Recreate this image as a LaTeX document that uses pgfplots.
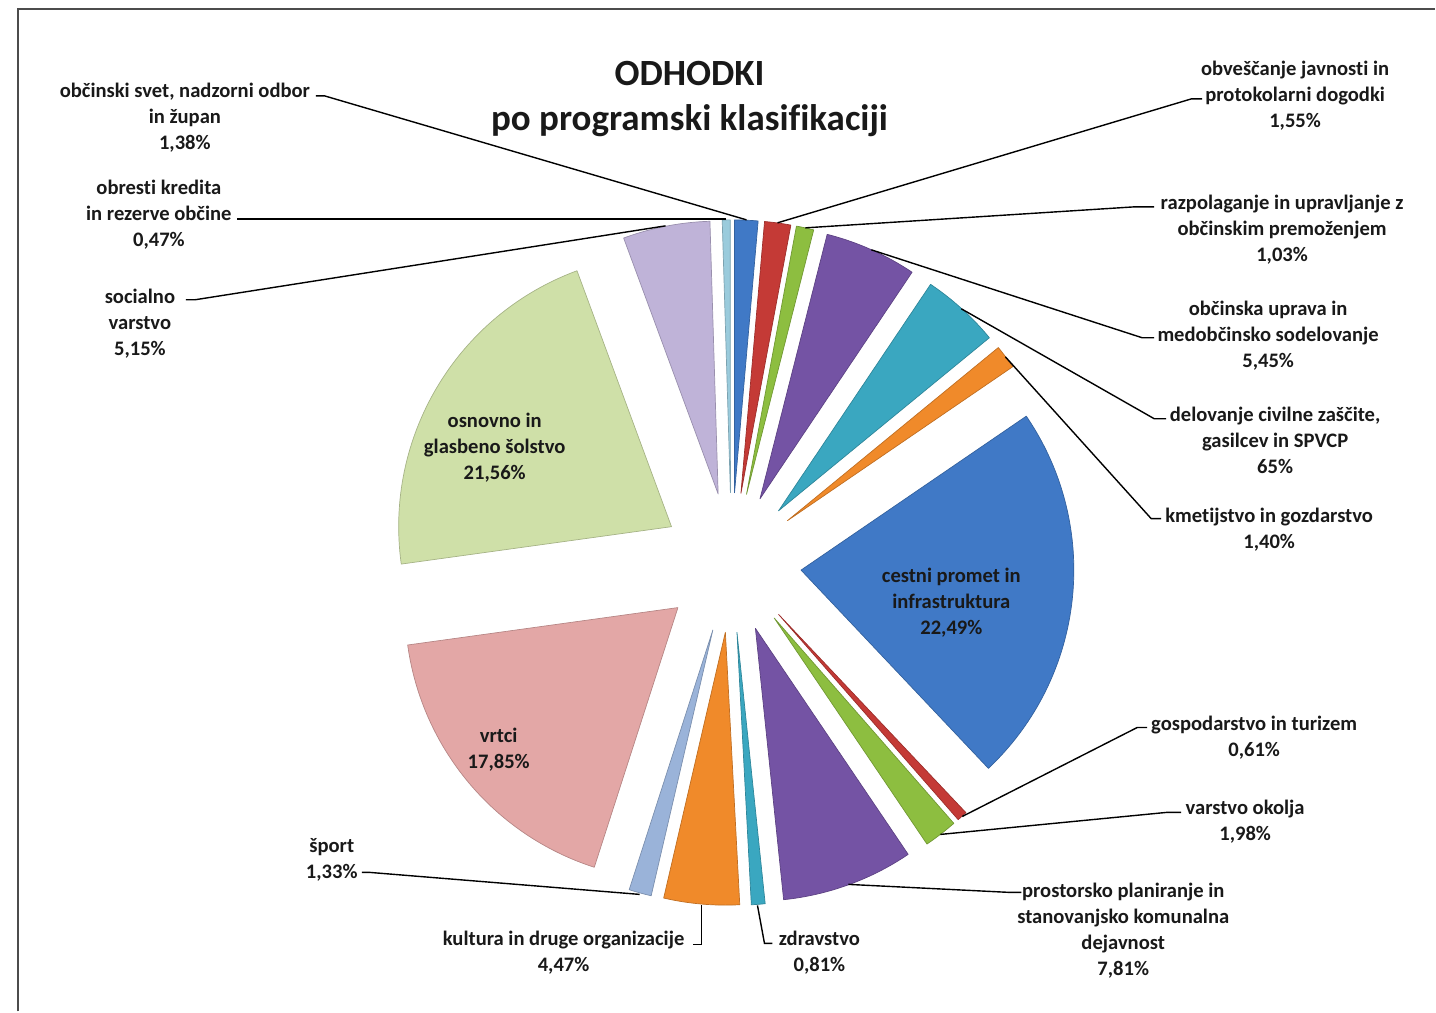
\documentclass[border=0pt]{standalone}
\usepackage{pgfplots}
\pgfplotsset{compat=1.18}
\usepackage{fontspec}
\setmainfont[Ligatures={NoCommon}]{Carlito}

\definecolor{s1}{HTML}{4079C6}
\definecolor{s2}{HTML}{C43A36}
\definecolor{s3}{HTML}{8DBE40}
\definecolor{s4}{HTML}{7453A4}
\definecolor{s5}{HTML}{3AA7C0}
\definecolor{s6}{HTML}{F08A2A}
\definecolor{s7}{HTML}{9AB3D9}
\definecolor{s8}{HTML}{E3A7A6}
\definecolor{s9}{HTML}{CFE0A8}
\definecolor{s10}{HTML}{BFB3D8}
\definecolor{s11}{HTML}{9ACBDC}

\begin{document}
\begin{tikzpicture}[
    lbl/.style={font=\fontsize{10.3}{13}\selectfont\bfseries, align=center, inner sep=0pt, text=black!90, yshift=-1pt},
    lead/.style={black, line width=0.7pt},
]
\begin{axis}[
    hide axis, scale only axis,
    width=718pt, height=506pt,
    xmin=0, xmax=1436, ymin=0, ymax=1012,
    y dir=reverse, clip=false,
]
% keep the full canvas as bounding box
\path (axis cs:0,0) rectangle (axis cs:1436,1012);
% frame
\draw[gray!60!black, line width=1pt] (axis cs:18,1012) -- (axis cs:18,9.5) -- (axis cs:1436,9.5);

% exploded pie: share in %, colour
\xdef\cum{0}
\foreach \v/\c in {1.38/s1, 1.55/s2, 1.03/s3, 5.45/s4, 4.65/s5, 1.40/s6,
                   22.49/s1, 0.61/s2, 1.98/s3, 7.81/s4, 0.81/s5, 4.47/s6,
                   1.33/s7, 17.85/s8, 21.56/s9, 5.15/s10, 0.47/s11}{
  \pgfmathsetmacro\as{90-3.6*\cum}
  \pgfmathsetmacro\cn{\cum+\v}
  \pgfmathsetmacro\ae{90-3.6*\cn}
  \pgfmathsetmacro\am{(\as+\ae)/2}
  \edef\temp{\noexpand\fill[\c, draw=\c!80!black, line width=0.35pt, line join=round]
    (axis cs:732,563) ++(\am:35pt) -- ++(\as:136.5pt)
    arc[start angle=\as, end angle=\ae, radius=136.5pt] -- cycle;}
  \temp
  \xdef\cum{\cn}
}

% title
\node[font=\fontsize{18.5}{22.5}\selectfont\bfseries, align=center, text=black!90]
  at (axis cs:690,99) {ODHODKI\\po programski klasifikaciji};

% leader lines
\draw[lead] (axis cs:747,220) -- (axis cs:325,96) -- (axis cs:316,96);
\draw[lead] (axis cs:727,219) -- (axis cs:237,219);
\draw[lead] (axis cs:666,226) -- (axis cs:195,300) -- (axis cs:186,300);
\draw[lead] (axis cs:778,223) -- (axis cs:1192,99) -- (axis cs:1203,99);
\draw[lead] (axis cs:806,228) -- (axis cs:1135,207) -- (axis cs:1155,207);
\draw[lead] (axis cs:872,250) -- (axis cs:1143,338) -- (axis cs:1155,338);
\draw[lead] (axis cs:962,309) -- (axis cs:1155,419) -- (axis cs:1167,419);
\draw[lead] (axis cs:1006,357) -- (axis cs:1152,519) -- (axis cs:1162,519);
\draw[lead] (axis cs:963,817) -- (axis cs:1138,728) -- (axis cs:1148,728);
\draw[lead] (axis cs:941,835) -- (axis cs:1167,813) -- (axis cs:1182,813);
\draw[lead] (axis cs:849,885) -- (axis cs:1010,893) -- (axis cs:1022,893);
\draw[lead] (axis cs:758,906) -- (axis cs:765,944) -- (axis cs:773,944);
\draw[lead] (axis cs:702,906) -- (axis cs:702,945) -- (axis cs:693,945);
\draw[lead] (axis cs:640,895) -- (axis cs:370,873) -- (axis cs:362,873);

% outside labels
\node[lbl] at (axis cs:185,116) {občinski svet, nadzorni odbor\\in župan\\1,38\%};
\node[lbl] at (axis cs:159,213) {obresti kredita\\in rezerve občine\\0,47\%};
\node[lbl] at (axis cs:140,322) {socialno\\varstvo\\5,15\%};
\node[lbl] at (axis cs:1296,94) {obveščanje javnosti in\\protokolarni dogodki\\1,55\%};
\node[lbl] at (axis cs:1283,228) {razpolaganje in upravljanje z\\občinskim premoženjem\\1,03\%};
\node[lbl] at (axis cs:1269,334) {občinska uprava in\\medobčinsko sodelovanje\\5,45\%};
\node[lbl] at (axis cs:1276,439) {delovanje civilne zaščite,\\gasilcev in SPVCP\\65\%};
\node[lbl] at (axis cs:1270,528) {kmetijstvo in gozdarstvo\\1,40\%};
\node[lbl] at (axis cs:1255,736) {gospodarstvo in turizem\\0,61\%};
\node[lbl] at (axis cs:1246,820) {varstvo okolja\\1,98\%};
\node[lbl] at (axis cs:1124,929) {prostorsko planiranje in\\stanovanjsko komunalna\\dejavnost\\7,81\%};
\node[lbl] at (axis cs:820,951) {zdravstvo\\0,81\%};
\node[lbl] at (axis cs:564,951) {kultura in druge organizacije\\4,47\%};
\node[lbl] at (axis cs:332,858) {šport\\1,33\%};

% inside labels
\node[lbl] at (axis cs:952,601) {cestni promet in\\infrastruktura\\22,49\%};
\node[lbl] at (axis cs:499,748) {vrtci\\17,85\%};
\node[lbl] at (axis cs:495,446) {osnovno in\\glasbeno šolstvo\\21,56\%};
\end{axis}
\end{tikzpicture}
\end{document}
